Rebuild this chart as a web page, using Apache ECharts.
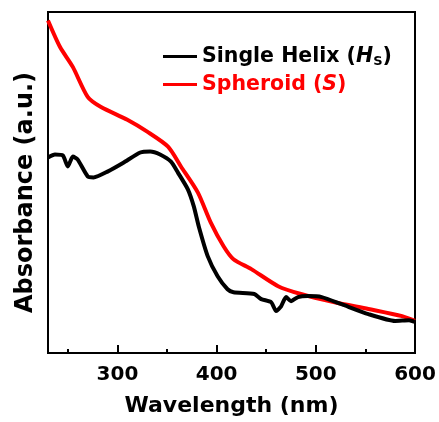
<!DOCTYPE html>
<html>
<head>
<meta charset="utf-8">
<script src="https://cdn.jsdelivr.net/npm/echarts@6/dist/echarts.min.js"></script>
<style>html,body{margin:0;padding:0;background:#fff;}#c{width:439px;height:422px;}</style>
</head>
<body>
<div id="c"></div>
<script>
var wavelengthsS = [230, 242, 255, 270, 283, 310, 330, 351, 364, 381, 394, 407, 417, 435, 462, 485, 519, 553, 587, 600];
var spheroid =     [0.975, 0.898, 0.839, 0.751, 0.722, 0.684, 0.649, 0.605, 0.547, 0.471, 0.383, 0.313, 0.275, 0.246, 0.196, 0.173, 0.149, 0.129, 0.108, 0.094];

var wavelengthsH = [230, 237, 245, 250, 255, 260, 270, 276, 290, 306, 323, 333, 343, 354, 361, 371, 377, 382, 391, 401, 411, 417, 438, 445, 455, 460, 465, 470, 475, 482, 492, 506, 526, 553, 580, 594, 600];
var singleHelix =  [0.573, 0.582, 0.579, 0.547, 0.576, 0.567, 0.518, 0.515, 0.532, 0.558, 0.588, 0.591, 0.582, 0.561, 0.529, 0.480, 0.430, 0.371, 0.284, 0.225, 0.187, 0.178, 0.173, 0.158, 0.149, 0.123, 0.137, 0.164, 0.152, 0.164, 0.167, 0.164, 0.143, 0.114, 0.094, 0.096, 0.091];

var xTickLabels = [300, 400, 500, 600];

function pairs(xs, ys) { return xs.map(function (x, i) { return [x, ys[i]]; }); }

var chart = echarts.init(document.getElementById('c'), null, {renderer: 'canvas'});
var FONT = 'DejaVu Sans, sans-serif';
chart.setOption({
  animation: false,
  backgroundColor: '#fff',
  grid: {left: 48, right: 24, top: 12, bottom: 69, show: true, borderColor: '#000', borderWidth: 2, backgroundColor: 'transparent'},
  legend: {
    orient: 'vertical', left: 158, top: 41, itemWidth: 34, itemHeight: 3, itemGap: 6, icon: 'rect',
    data: [
      {name: 'Single Helix', textStyle: {color: '#000'}},
      {name: 'Spheroid', textStyle: {color: '#ff0000'}}
    ],
    formatter: function (name) {
      if (name === 'Single Helix') return '{b|Single Helix (}{i|H}{s|S}{b|)}';
      return '{b|Spheroid (}{i|S}{b|)}';
    },
    textStyle: {
      fontFamily: FONT, fontWeight: 'bold', fontSize: 20,
      rich: {
        b: {fontFamily: FONT, fontWeight: 'bold', fontSize: 20.5},
        i: {fontFamily: FONT, fontWeight: 'bold', fontStyle: 'italic', fontSize: 20.5},
        s: {fontFamily: FONT, fontWeight: 'bold', fontSize: 13, verticalAlign: 'bottom', padding: [10, 0, 0, 0]}
      }
    }
  },
  xAxis: [
    {
      type: 'value', min: 230, max: 600, splitNumber: 4, position: 'bottom',
      name: 'Wavelength (nm)', nameLocation: 'middle', nameGap: 42,
      nameTextStyle: {fontFamily: FONT, fontWeight: 'bold', fontSize: 22, color: '#000'},
      axisLine: {show: true, lineStyle: {color: '#000', width: 2}},
      axisTick: {show: true, inside: true, length: 8, lineStyle: {color: '#000', width: 2}},
      axisLabel: {
        fontFamily: FONT, fontWeight: 'bold', fontSize: 20, color: '#000', margin: 12,
        formatter: function (v) { return xTickLabels.indexOf(v) >= 0 ? String(v) : ''; }
      },
      splitLine: {show: false}
    },
    {
      type: 'value', min: 230, max: 600, splitNumber: 7, position: 'bottom',
      axisLine: {show: false},
      axisTick: {show: true, inside: true, length: 4, lineStyle: {color: '#000', width: 2}},
      axisLabel: {show: false},
      splitLine: {show: false}
    }
  ],
  yAxis: {
    type: 'value', min: 0, max: 1,
    name: 'Absorbance (a.u.)', nameLocation: 'middle', nameGap: 10,
    nameTextStyle: {fontFamily: FONT, fontWeight: 'bold', fontSize: 24, color: '#000', padding: [0, 20, 0, 0]},
    axisLine: {show: true, lineStyle: {color: '#000', width: 2}},
    axisTick: {show: false}, axisLabel: {show: false}, splitLine: {show: false}
  },
  series: [
    {name: 'Spheroid', type: 'line', data: pairs(wavelengthsS, spheroid), symbol: 'none', smooth: 0.25,
     lineStyle: {color: '#ff0000', width: 4}, itemStyle: {color: '#ff0000'}},
    {name: 'Single Helix', type: 'line', data: pairs(wavelengthsH, singleHelix), symbol: 'none', smooth: 0.2,
     lineStyle: {color: '#000', width: 4}, itemStyle: {color: '#000'}}
  ]
});
</script>
</body>
</html>
